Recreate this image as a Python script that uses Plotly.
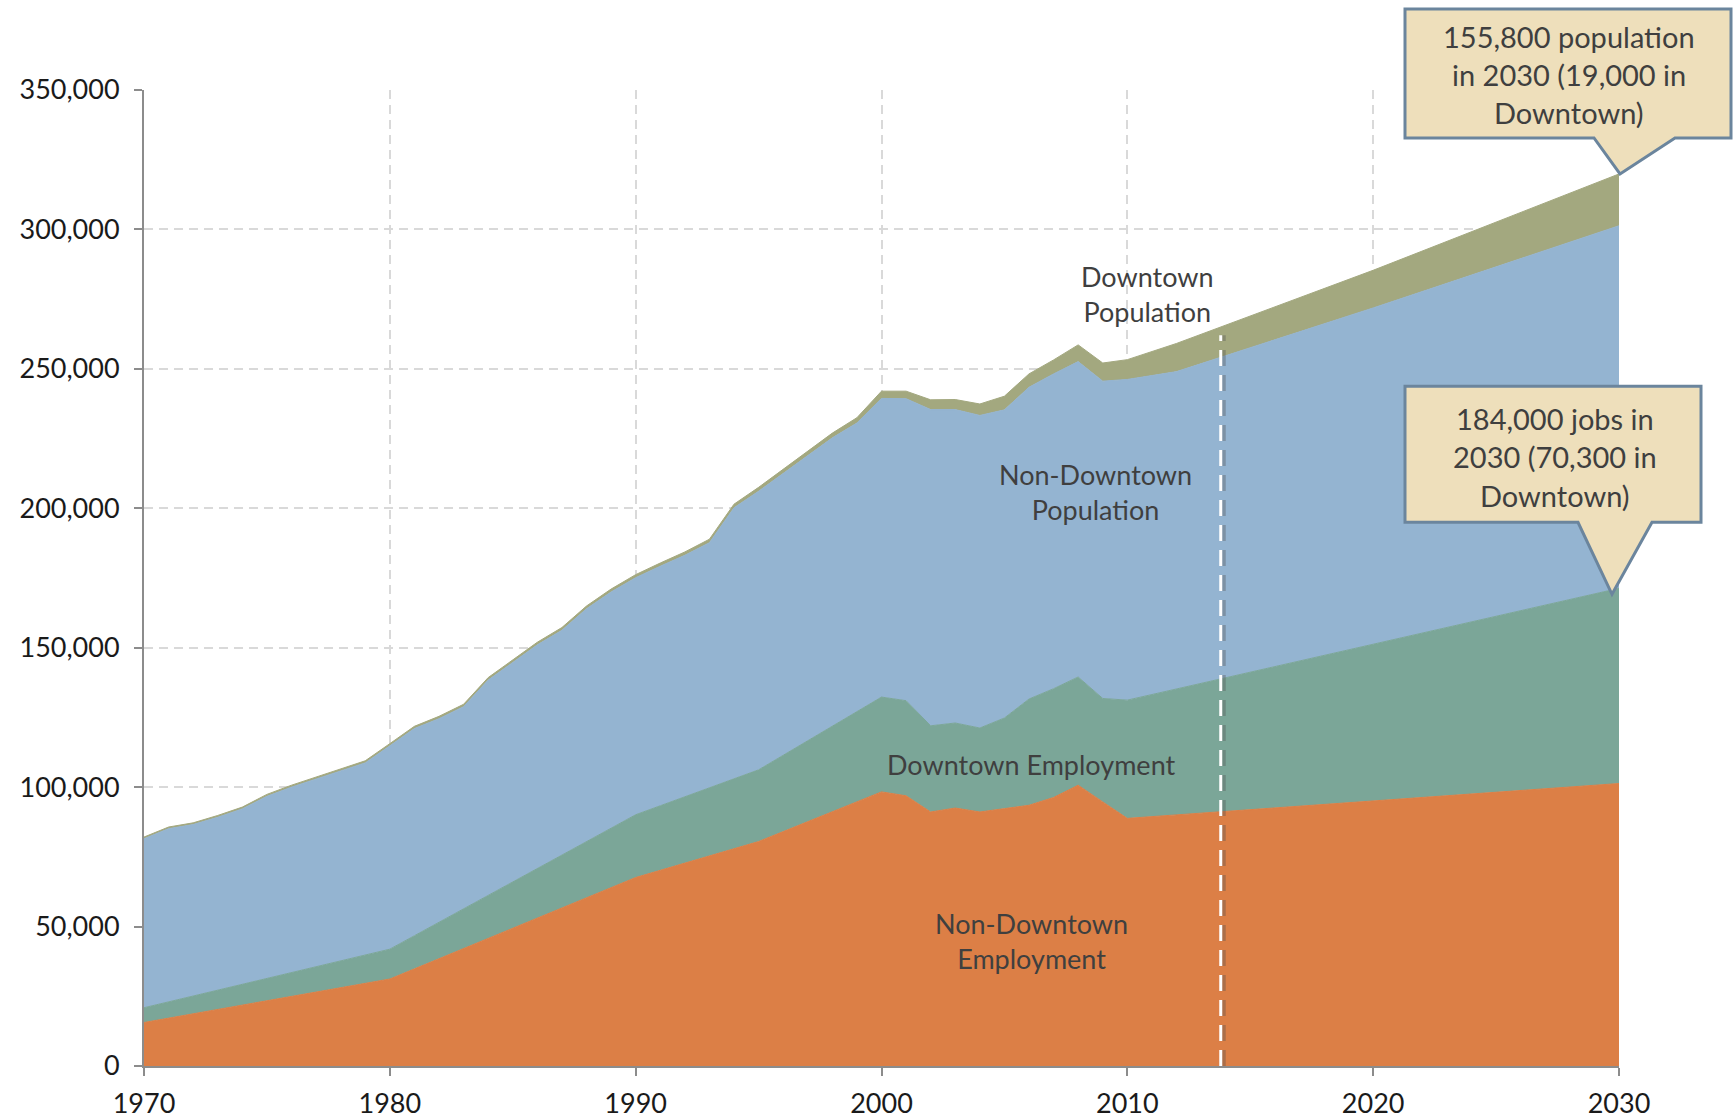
import numpy as np
import plotly.graph_objects as go

# ---------------- data ----------------
emp_years = [1970, 1980, 1990, 1995, 2000, 2001, 2002, 2003, 2004, 2005,
             2006, 2007, 2008, 2009, 2010, 2030]
non_downtown_employment = [15600, 31200, 67600, 80500, 98300, 96900, 91100, 92500,
                           91100, 92300, 93500, 96300, 100700, 94700, 88800, 101300]
downtown_employment = [5300, 10700, 22500, 25700, 34000, 34100, 30900, 30500,
                       30100, 32500, 38100, 39000, 38800, 37100, 42400, 70000]

pop_years = list(range(1970, 2011)) + [2012, 2020, 2030]
non_downtown_population = [
    60600, 62100, 61500, 62000, 62900, 65300, 66500, 67300, 68200, 68900,
    72900, 74300, 73000, 72500, 77200, 78600, 80200, 80600, 83500, 84700,
    85000, 85900, 86600, 87900, 97200, 99900, 101100, 102300, 103400, 103500,
    107100, 108300, 113400, 112400, 112100, 110500, 111800, 112900, 113100, 113800,
    115000,
    113800, 120600, 130000]
downtown_population = [
    600, 600, 600, 650, 650, 700, 700, 700, 750, 750,
    800, 800, 850, 850, 900, 900, 950, 1000, 1000, 1050,
    1100, 1150, 1200, 1250, 1300, 1400, 1500, 1600, 1700, 1900,
    2600, 2700, 3500, 3600, 4100, 4900, 4800, 5000, 6000, 6500,
    7100,
    10100, 13500, 18600]

x_ticks = [1970, 1980, 1990, 2000, 2010, 2020, 2030]
y_ticks = [0, 50000, 100000, 150000, 200000, 250000, 300000, 350000]

series_names = ["Non-Downtown Employment", "Downtown Employment",
                "Non-Downtown Population", "Downtown Population"]
pop_callout = ["155,800 population", "in 2030 (19,000 in", "Downtown)"]
job_callout = ["184,000 jobs in", "2030 (70,300 in", "Downtown)"]
projection_year = 2013.8

X_RANGE = [1970, 2030]
Y_RANGE = [0, 350000]

# ---------------- styling ----------------
C_ORANGE = "#DC7F46"
C_TEAL = "#7BA698"
C_BLUE = "#94B4D1"
C_OLIVE = "#A3A87F"
C_TEXT = "#3F3F3F"
C_BOX = "#EEDFBB"
C_BOX_LINE = "#6B859D"
FONT = "Lato"

fig = go.Figure()
for xs, ys, name, col in [
    (emp_years, non_downtown_employment, series_names[0], C_ORANGE),
    (emp_years, downtown_employment, series_names[1], C_TEAL),
    (pop_years, non_downtown_population, series_names[2], C_BLUE),
    (pop_years, downtown_population, series_names[3], C_OLIVE),
]:
    fig.add_trace(go.Scatter(
        x=xs, y=ys, name=name, mode="lines", stackgroup="one",
        stackgaps="interpolate", fillcolor=col,
        line=dict(color=col, width=1), hoverinfo="x+y+name"))

# totals (for placing decorations at data positions)
emp_total_at_pop = np.interp(pop_years, emp_years,
                             np.add(non_downtown_employment, downtown_employment))
grand_total = emp_total_at_pop + np.array(non_downtown_population) + np.array(downtown_population)
total_2030 = float(grand_total[-1])
jobs_2030 = float(non_downtown_employment[-1] + downtown_employment[-1])
top_at_proj = float(np.interp(projection_year, pop_years, grand_total))


def px(xv):
    return (xv - X_RANGE[0]) / (X_RANGE[1] - X_RANGE[0])


def py(yv):
    return (yv - Y_RANGE[0]) / (Y_RANGE[1] - Y_RANGE[0])


shapes = []
# projection divider (shadow + white dashed line)
shapes.append(dict(type="line", xref="x", yref="y", xsizemode="pixel", xanchor=projection_year,
                   x0=3, x1=3, y0=0, y1=top_at_proj - 3000,
                   line=dict(color="rgba(80,80,80,0.35)", width=4, dash="16px,9px"), layer="above"))
shapes.append(dict(type="line", xref="x", yref="y", x0=projection_year, x1=projection_year,
                   y0=0, y1=top_at_proj - 3000,
                   line=dict(color="white", width=3, dash="16px,9px"), layer="above"))


def callout(ax, ay, left, right, top, bottom, bl, br, tip):
    path = (f"M {left},{top} L {right},{top} L {right},{bottom} L {br},{bottom} "
            f"L {tip[0]},{tip[1]} L {bl},{bottom} L {left},{bottom} Z")
    return dict(type="path", xref="paper", yref="paper", xsizemode="pixel", ysizemode="pixel",
                xanchor=px(ax), yanchor=py(ay), path=path, fillcolor=C_BOX,
                line=dict(color=C_BOX_LINE, width=3), layer="above")


shapes.append(callout(2030, total_2030, -214, 112, 165, 36, -25, 56, (1, 0)))
shapes.append(callout(2030, jobs_2030, -214, 82, 202, 66, -41, 33, (-7, -6)))

annotations = []
for txt, xx, yy in [
    ("Downtown<br>Population", 2010.8, 277000),
    ("Non-Downtown<br>Population", 2008.7, 205700),
    ("Downtown Employment", 2006.1, 108000),
    ("Non-Downtown<br>Employment", 2006.1, 44900),
]:
    annotations.append(dict(x=xx, y=yy, xref="x", yref="y", text=txt, showarrow=False,
                            xanchor="center", yanchor="middle",
                            font=dict(family=FONT, size=27, color=C_TEXT), align="center"))

for lines, anchor_y, xs, ys in [
    (pop_callout, total_2030, -50, [137, 99, 61]),
    (job_callout, jobs_2030, -64, [170, 132, 93]),
]:
    for line, dy in zip(lines, ys):
        annotations.append(dict(x=px(2030), y=py(anchor_y), xref="paper", yref="paper",
                                xanchor="center", yanchor="middle",
                                xshift=xs, yshift=dy, text=line, showarrow=False,
                                font=dict(family=FONT, size=29, color=C_TEXT)))

axis_common = dict(showgrid=True, gridcolor="#D9D9D9", gridwidth=1.5, griddash="9px,6px",
                   showline=True, linecolor="#8C8C8C", linewidth=2, ticks="outside",
                   ticklen=8, tickwidth=2, tickcolor="#8C8C8C", zeroline=False,
                   automargin=False,
                   tickfont=dict(family=FONT, size=27, color="#1A1A1A"))

fig.update_layout(
    width=1735, height=1118,
    margin=dict(l=144, r=116, t=90, b=52, autoexpand=False),
    paper_bgcolor="white", plot_bgcolor="white",
    showlegend=False,
    xaxis=dict(range=X_RANGE, tickvals=x_ticks, ticklabelstandoff=5, **axis_common),
    yaxis=dict(range=Y_RANGE, tickvals=y_ticks, tickformat=",", ticklabelstandoff=9,
               **axis_common),
    shapes=shapes, annotations=annotations,
)

fig.write_html("out.html", config={"displayModeBar": False},
               post_script="document.body.style.margin='0';")
